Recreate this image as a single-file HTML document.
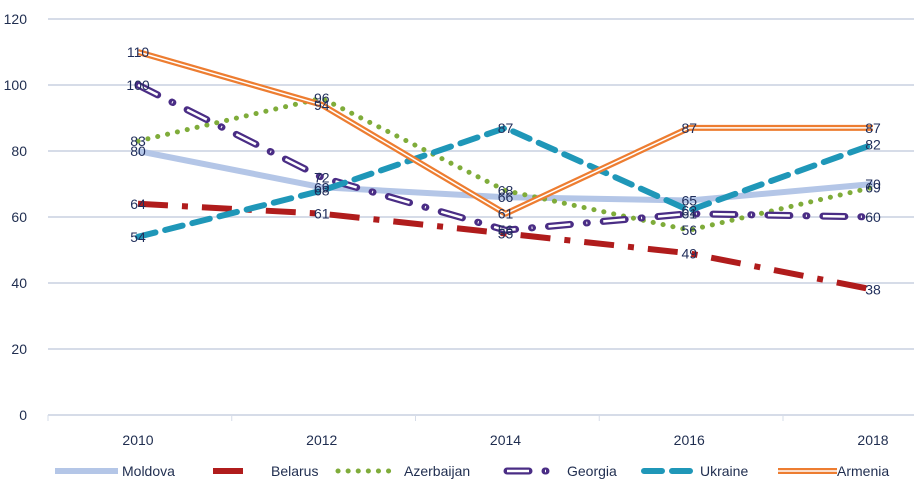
<!DOCTYPE html>
<html><head><meta charset="utf-8"><style>
body{margin:0;background:#fff;font-family:"Liberation Sans",sans-serif}
svg text{font-family:"Liberation Sans",sans-serif}
</style></head><body>
<svg id="chart" width="914" height="493" viewBox="0 0 914 493" xmlns="http://www.w3.org/2000/svg">
<g id="grid"></g>
<g id="yaxis"></g>
<g id="xaxis"></g>
<g id="series"></g>
<g id="labels"></g>
<g id="legend"></g>
</svg>
<script>
const years = ["2010","2012","2014","2016","2018"];
const yTicks = [0,20,40,60,80,100,120];
const moldova = [80,69,66,65,70];
const belarus = [64,61,55,49,38];
const azerbaijan = [83,96,68,56,69];
const georgia = [100,72,56,61,60];
const ukraine = [54,68,87,62,82];
const armenia = [110,94,61,87,87];

const NS="http://www.w3.org/2000/svg";
const x0=138, dx=183.75, yZero=415, pxPer=3.3;
const X=i=>x0+i*dx, Y=v=>yZero-v*pxPer;
function mk(tag,attrs,parent){const e=document.createElementNS(NS,tag);for(const k in attrs)e.setAttribute(k,attrs[k]);parent.appendChild(e);return e;}
const grid=document.getElementById('grid'),ya=document.getElementById('yaxis'),xa=document.getElementById('xaxis'),ser=document.getElementById('series'),lab=document.getElementById('labels'),leg=document.getElementById('legend');
yTicks.forEach(t=>{
  if(t>0){const l=mk('line',{x1:48,x2:914,y1:Y(t),y2:Y(t),stroke:'#d6dce8','stroke-width':2},grid);
  
  }
  const tx=mk('text',{x:27,y:Y(t)+5,'text-anchor':'end','font-size':14,fill:'#1f2d4f'},ya);tx.textContent=t;
  
  
});
const ax=mk('line',{x1:48,x2:914,y1:yZero,y2:yZero,stroke:'#d6dce8','stroke-width':2},xa);


for(let i=0;i<=5;i++){const t=mk('line',{x1:48+i*dx,x2:48+i*dx,y1:yZero,y2:yZero+6,stroke:'#d6dce8','stroke-width':1},xa);

}
years.forEach((yr,i)=>{const t=mk('text',{x:X(i),y:445,'text-anchor':'middle','font-size':14,fill:'#1f2d4f'},xa);t.textContent=yr;

});

const series=[
 {name:'Moldova',data:moldova,layers:[{stroke:'#b4c6e7',w:6}]},
 {name:'Belarus',data:belarus,layers:[{stroke:'#b01c1c',w:6,dash:'30 14 6 14'}]},
 {name:'Azerbaijan',data:azerbaijan,layers:[{stroke:'#7fac3a',w:5,dash:'0.1 10',cap:'round'}]},
 {name:'Georgia',data:georgia,layers:[{stroke:'#4a2d85',w:7,dash:'22 16 1 16',cap:'round'},{stroke:'#fff',w:2.5,dash:'22 16 1 16',cap:'butt'}]},
 {name:'Ukraine',data:ukraine,layers:[{stroke:'#1f97b8',w:6,dash:'18 10',cap:'round'}]},
 {name:'Armenia',data:armenia,layers:[{stroke:'#ed7d31',w:6},{stroke:'#fff',w:1.5}]}
];
series.forEach(s=>{
  const g=mk('g',{},ser);
  
  
  const d=s.data.map((v,i)=>(i?'L':'M')+X(i)+' '+Y(v)).join(' ');
  s.layers.forEach(L=>{const p=mk('path',{d:d,fill:'none',stroke:L.stroke,'stroke-width':L.w,'stroke-linecap':L.cap||'butt','stroke-linejoin':'round'},g);if(L.dash)p.setAttribute('stroke-dasharray',L.dash);});
  s.data.forEach((v,i)=>{const t=mk('text',{x:X(i),y:Y(v)+5,'text-anchor':'middle','font-size':14,fill:'#1f2d5a'},lab);t.textContent=v;
  
  });
});
const legX=[55,213,338,507,644,778];
const legLen=[63,44,56,44,56,59];
const legTx=[122,271,404,567,700,837];
series.forEach((s,k)=>{
  const g=mk('g',{},leg);
  
  
  const x=legX[k],y=471;
  s.layers.forEach(L=>{const p=mk('line',{x1:x,x2:x+legLen[k],y1:y,y2:y,stroke:L.stroke,'stroke-width':L.w,'stroke-linecap':L.cap||'butt'},g);if(L.dash)p.setAttribute('stroke-dasharray',L.dash);});
  const t=mk('text',{x:legTx[k],y:y+5,'font-size':14,fill:'#1f2d4f'},g);t.textContent=s.name;
});
</script>
</body></html>
